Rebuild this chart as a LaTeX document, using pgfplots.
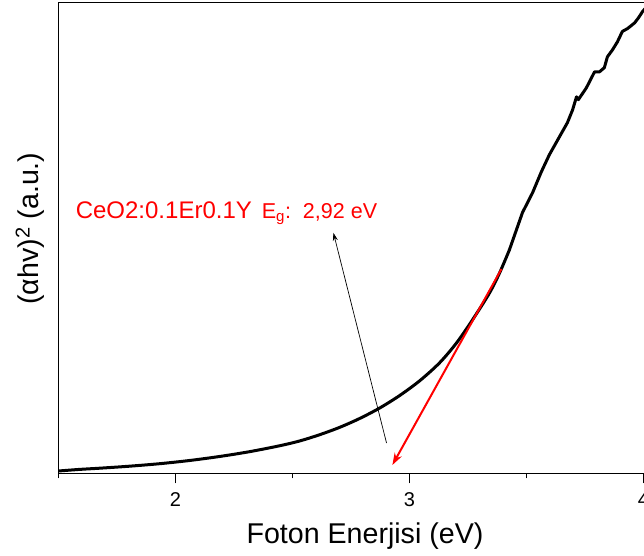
\documentclass[border=0pt]{standalone}
\usepackage{pgfplots}
\pgfplotsset{compat=1.18}
\usepackage{fontspec}
\setmainfont{Liberation Sans}
\usetikzlibrary{arrows.meta}
\begin{document}
\begin{tikzpicture}[x=1pt,y=1pt]
\begin{axis}[
  at={(58.5pt,81.7pt)}, anchor=south west,
  scale only axis, width=613pt, height=470.6pt,
  xmin=1.5, xmax=4.12, ymin=0, ymax=100,
  axis line style={line width=1.3pt},
  xtick={2,3,4}, minor xtick={1.5,2.5,3.5},
  ytick=\empty,
  major tick length=10pt, minor tick length=5pt,
  tick align=outside, xtick pos=bottom,
  tick style={black, line width=1.3pt},
  /pgf/number format/assume math mode=true,
  xticklabel style={font=\fontsize{20}{24}\selectfont, yshift=-6pt},
  xlabel={Foton Enerjisi (eV)},
  xlabel style={font=\fontsize{28.6}{34}\selectfont, at={(axis description cs:0.5,0)}, anchor=base, yshift=-70.3pt},
  ylabel={(αhv)\textsuperscript{2} (a.u.)},
  ylabel style={font=\fontsize{28.6}{34}\selectfont, at={(axis description cs:-0.0465,0.52)}, anchor=center},
]
\addplot[black, line width=3pt, smooth, line cap=round] coordinates {
  (1.500,0.49) (1.590,0.83) (1.675,1.08) (1.803,1.51) (1.932,2.04)
  (2.060,2.72) (2.188,3.57) (2.316,4.59) (2.444,5.84) (2.530,6.86)
  (2.615,8.18) (2.701,9.75) (2.786,11.62) (2.872,13.85) (2.957,16.49)
  (3.043,19.63) (3.128,23.44) (3.201,27.69) (3.269,32.58) (3.342,38.31)
  (3.385,42.56) (3.427,47.45)
};
% noisy upper part
\addplot[black, line width=3pt, line join=round, line cap=round] coordinates {
  (3.427,47.45) (3.483,55.4)
  (3.526,59.6) (3.564,64.1) (3.598,67.7) (3.641,71.5) (3.675,74.5)
  (3.697,77.2) (3.714,80.0) (3.722,79.4) (3.756,81.9) (3.791,85.3)
  (3.812,85.3) (3.833,86.2) (3.846,88.5) (3.868,90.0) (3.889,91.7)
  (3.910,93.9) (3.932,94.5) (3.962,95.7) (3.979,96.8) (3.996,98.1)
  (4.020,99.5) (4.050,101)
};
% tangent line
\addplot[red, line width=2pt, -{Stealth[length=12pt,width=8pt]}] coordinates {
  (3.393,43.4) (2.927,1.76)
};
% pointer
\addplot[black, line width=0.7pt, -{Stealth[length=8pt,width=5pt]}] coordinates {
  (2.902,6.44) (2.675,51.1)
};
\node[anchor=base west, inner sep=0pt, text=red] at (axis cs:1.573,54.25)
  {\fontsize{24}{28}\selectfont CeO2:0.1Er0.1Y\hspace{10pt}\fontsize{21.5}{25}\selectfont E\textsubscript{g}:\ \ 2,92 eV};
\end{axis}
\pgfresetboundingbox
\path[use as bounding box] (0,0) rectangle (644,555);
\end{tikzpicture}
\end{document}
